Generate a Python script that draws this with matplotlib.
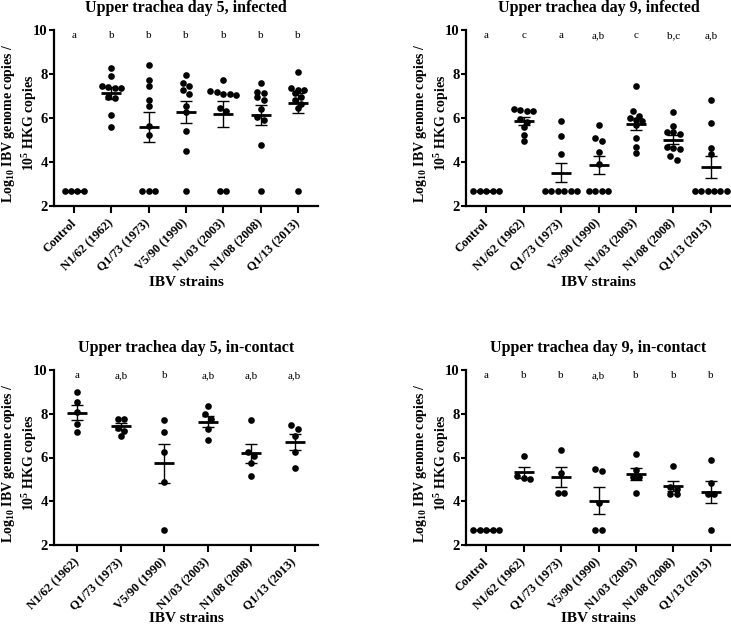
import numpy as np
import matplotlib
matplotlib.use("Agg")
import matplotlib.pyplot as plt

# Fonts: Times-like bold serif, bold digits inside mathtext too
plt.rcParams["font.family"] = "Liberation Serif"
plt.rcParams["font.weight"] = "bold"
plt.rcParams["mathtext.fontset"] = "custom"
plt.rcParams["mathtext.rm"] = "Liberation Serif:bold"
plt.rcParams["mathtext.it"] = "Liberation Serif:italic:bold"
plt.rcParams["mathtext.bf"] = "Liberation Serif:bold"

LOD = 2.7

strains_all = ["Control", "N1/62 (1962)", "Q1/73 (1973)", "V5/90 (1990)",
               "N1/03 (2003)", "N1/08 (2008)", "Q1/13 (2013)"]
strains_contact5 = strains_all[1:]

# Upper trachea day 5, infected
d5_infected = [
    [LOD] * 4,
    [8.28, 7.93, 7.45, 7.4, 7.38, 7.35, 6.94, 6.92, 6.12, 5.58],
    [8.4, 7.72, 7.45, 6.84, 6.56, 5.62, 5.24, LOD, LOD, LOD],
    [7.95, 7.57, 7.45, 7.26, 7.07, 6.56, 6.27, 5.42, 4.48, LOD],
    [7.75, 7.25, 7.2, 7.1, 7.1, 7.05, 6.45, 6.3, LOD, LOD],
    [7.57, 7.19, 7.15, 6.94, 6.8, 6.43, 6.03, 5.93, 4.79, LOD],
    [8.08, 7.37, 7.29, 7.26, 7.14, 6.94, 6.8, 6.64, 6.46, LOD],
]
letters_d5_infected = ["a", "b", "b", "b", "b", "b", "b"]

# Upper trachea day 9, infected
d9_infected = [
    [LOD] * 5,
    [6.4, 6.35, 6.3, 6.3, 5.95, 5.8, 5.6, 5.25, 4.95],
    [5.88, 5.18, 4.35] + [LOD] * 6,
    [5.69, 5.08, 4.97, 4.46, 3.92] + [LOD] * 4,
    [7.45, 6.3, 6.07, 6.0, 5.9, 5.85, 5.7, 5.1, 4.7, 4.42],
    [6.28, 5.62, 5.38, 5.35, 5.28, 4.69, 4.65, 4.58, 4.26, 4.11],
    [6.82, 5.77, 4.65, 4.35] + [LOD] * 6,
]
letters_d9_infected = ["a", "c", "a", "a,b", "c", "b,c", "a,b"]

# Upper trachea day 5, in-contact
d5_contact = [
    [8.98, 8.52, 8.07, 7.53, 7.15],
    [7.78, 7.78, 7.35, 7.2, 6.98],
    [7.7, 7.17, 6.27, 4.86, LOD],
    [8.34, 7.98, 7.76, 7.31, 6.82],
    [7.7, 6.24, 6.07, 5.77, 5.15],
    [7.5, 7.3, 7.0, 6.25, 5.5],
]
letters_d5_contact = ["a", "a,b", "b", "a,b", "a,b", "a,b"]

# Upper trachea day 9, in-contact
d9_contact = [
    [LOD] * 5,
    [6.07, 5.14, 5.08, 5.0],
    [6.33, 5.29, 4.4, 4.4],
    [5.46, 5.37, 3.94, LOD, LOD],
    [6.17, 5.45, 5.11, 5.11, 4.4],
    [5.61, 4.65, 4.55, 4.35, 4.33],
    [5.87, 4.84, 4.35, 4.32, LOD],
]
letters_d9_contact = ["a", "b", "b", "a,b", "b", "b", "b"]

W, H = 731, 627
fig = plt.figure(figsize=(W / 100, H / 100), dpi=100)


def swarm_x(vals, center, dx, tol=0.23):
    # simple row-based beeswarm: close values share a row, spread sideways
    order = sorted(range(len(vals)), key=lambda i: -vals[i])
    rows = []
    for i in order:
        if rows and vals[rows[-1][0]] - vals[i] <= tol:
            rows[-1].append(i)
        else:
            rows.append([i])
    xs = np.zeros(len(vals))
    for row in rows:
        k = len(row)
        for j, i in enumerate(row):
            xs[i] = center + (j - (k - 1) / 2) * dx
    return xs


def draw_panel(rect, title, labels, groups, letters, xlab_y):
    ax = fig.add_axes(rect)
    n = len(labels)
    ax.set_xlim(-0.54, n - 1 + 0.54)
    ax.set_ylim(2, 10)
    ppu = rect[2] * W / (n - 1 + 1.08)  # pixels per category unit
    dx = 6.4 / ppu
    half_mean = 10 / ppu

    for i, vals in enumerate(groups):
        vals = np.array(vals, dtype=float)
        xs = swarm_x(vals, i, dx)
        ax.plot(xs, vals, "o", color="black", ms=4.8, mew=0, zorder=3)
        m = vals.mean()
        sem = vals.std(ddof=1) / np.sqrt(len(vals))
        ax.hlines(m, i - half_mean, i + half_mean, color="black", lw=2, zorder=4)
        if sem > 0:
            ax.errorbar(i, m, yerr=sem, fmt="none", ecolor="black",
                        elinewidth=1, capsize=4.6, capthick=1, zorder=4)
        ax.text(i, 9.73, letters[i], ha="center", va="center",
                fontsize=8, fontweight="normal")

    ax.set_xticks(range(n))
    ax.set_xticklabels(labels, rotation=45, ha="right", va="center",
                       rotation_mode="anchor", fontsize=9, fontweight="bold")
    ax.set_yticks([2, 4, 6, 8, 10])
    ax.tick_params(axis="y", labelsize=10.5, width=1.5, length=3.5, pad=1)
    ax.tick_params(axis="x", width=1.5, length=5, pad=6)
    for s in ["top", "right"]:
        ax.spines[s].set_visible(False)
    for s in ["left", "bottom"]:
        ax.spines[s].set_linewidth(1.6)
    ax.set_title(title, fontsize=11.5, fontweight="bold", pad=13)
    ax.set_xlabel("IBV strains", fontsize=11, fontweight="bold")
    ax.xaxis.set_label_coords(0.5, xlab_y)
    ax.xaxis.label.set_va("center")
    ax.set_ylabel("Log$_{10}$ IBV genome copies /\n10$^{5}$ HKG copies",
                  fontsize=10, fontweight="bold", linespacing=1.2)
    ax.yaxis.set_label_coords(-0.058, 0.47)
    return ax


left1, w1 = 54 / W, 264 / W
left2, w2 = 466 / W, (W - 466) / W
b_top, h_top = 1 - 206 / H, 176 / H
b_bot, h_bot = 1 - 545 / H, 175 / H

draw_panel([left1, b_top, w1, h_top], "Upper trachea day 5, infected",
           strains_all, d5_infected, letters_d5_infected, -77 / 176)
draw_panel([left2, b_top, w2, h_top], "Upper trachea day 9, infected",
           strains_all, d9_infected, letters_d9_infected, -77 / 176)
draw_panel([left1, b_bot, w1, h_bot], "Upper trachea day 5, in-contact",
           strains_contact5, d5_contact, letters_d5_contact, -74 / 175)
draw_panel([left2, b_bot, w2, h_bot], "Upper trachea day 9, in-contact",
           strains_all, d9_contact, letters_d9_contact, -74 / 175)

fig.savefig("out.png", dpi=100)
